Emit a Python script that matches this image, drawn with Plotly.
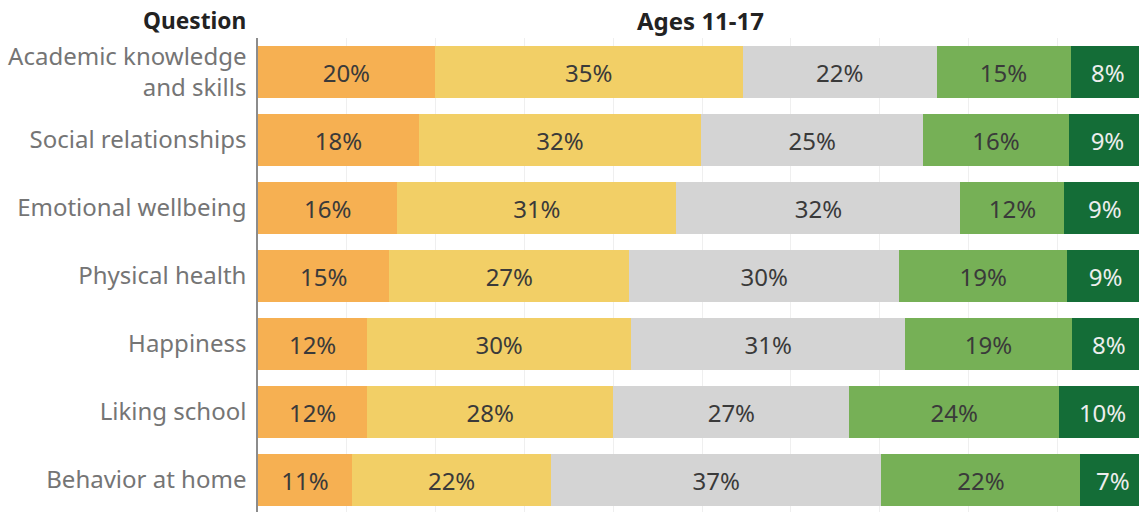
import plotly.graph_objects as go

questions = [
    "Academic knowledge<br>and skills",
    "Social relationships",
    "Emotional wellbeing",
    "Physical health",
    "Happiness",
    "Liking school",
    "Behavior at home",
]
series_names = ["Much worse", "Somewhat worse", "About the same", "Somewhat better", "Much better"]
much_worse = [19.9, 18.1, 15.7, 14.8, 12.3, 12.3, 10.6]
somewhat_worse = [34.7, 31.8, 31.4, 27.0, 29.7, 27.7, 22.4]
about_same = [21.8, 25.0, 32.0, 30.4, 30.9, 26.6, 37.2]
somewhat_better = [15.1, 16.4, 11.7, 18.9, 18.7, 23.6, 22.4]
much_better = [8.4, 8.7, 9.1, 8.7, 8.4, 9.8, 7.3]
series_values = [much_worse, somewhat_worse, about_same, somewhat_better, much_better]
colors = ["#F6B052", "#F2CF66", "#D4D4D4", "#76B056", "#146D37"]
text_colors = ["#3a3a3a", "#3a3a3a", "#3a3a3a", "#3a3a3a", "#EDEDED"]

FONT = "Noto Sans"
SIZE = 24

fig = go.Figure()
for name, vals, col, tcol in zip(series_names, series_values, colors, text_colors):
    fig.add_trace(go.Bar(
        y=questions, x=vals, name=name, orientation="h",
        marker=dict(color=col, line=dict(width=0)),
        texttemplate="%{x:.0f}%", textposition="inside", insidetextanchor="middle",
        textfont=dict(family=FONT, size=SIZE, color=tcol),
        constraintext="none", hoverinfo="skip",
    ))

fig.update_layout(
    barmode="stack", bargap=0.235, showlegend=False,
    width=1139, height=512,
    margin=dict(l=258, r=0, t=38, b=0),
    paper_bgcolor="white", plot_bgcolor="white",
    uniformtext=dict(minsize=SIZE, mode="show"),
    font=dict(family=FONT, size=SIZE, color="#757575"),
)
fig.update_xaxes(range=[0, 99.2], showticklabels=False, showgrid=True,
                 gridcolor="#EFEFEF", gridwidth=1, dtick=10, tick0=0,
                 zeroline=False, showline=False, ticks="", fixedrange=True)
fig.update_yaxes(type="category", range=[6.47, -0.5], showline=True,
                 linecolor="#8C8C8C", linewidth=1.5, ticks="", showgrid=False,
                 tickfont=dict(family=FONT, size=SIZE, color="#757575"),
                 ticklabelstandoff=5, fixedrange=True)

fig.add_annotation(text="<b>Question</b>", xref="paper", yref="paper",
                   x=-0.0113, y=1 + 18 / 474, xanchor="right", yanchor="middle",
                   showarrow=False, font=dict(family=FONT, size=22.7, color="#222222"))
fig.add_annotation(text="<b>Ages 11-17</b>", xref="paper", yref="paper",
                   x=(700 - 258) / 881, y=1 + 18 / 474, xanchor="center", yanchor="middle",
                   showarrow=False, font=dict(family=FONT, size=24, color="#222222"))

fig.write_html("out.html", config={"displayModeBar": False},
               post_script="document.body.style.margin='0';document.body.style.overflow='hidden';")
